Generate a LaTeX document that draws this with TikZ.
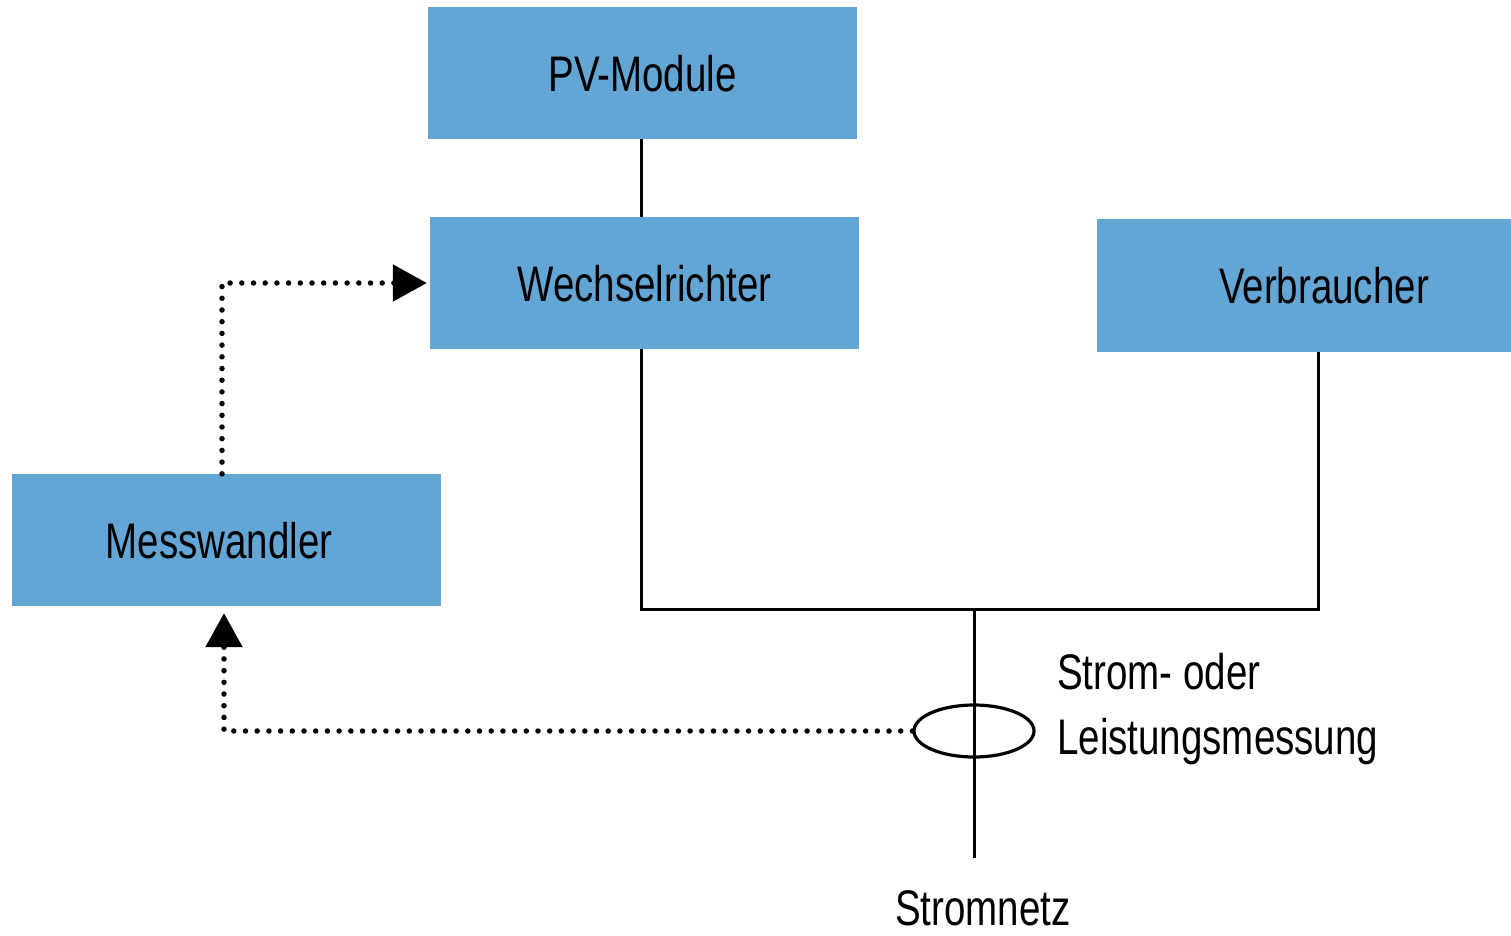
\documentclass[tikz,border=0pt]{standalone}
\usepackage{fontspec}
\newfontfamily\lbfont[FakeStretch=0.77]{Liberation Sans}
\usetikzlibrary{arrows.meta,shapes.geometric}
\definecolor{boxblue}{RGB}{99,166,214}
\tikzset{
  box/.style={fill=boxblue, minimum width=429pt, minimum height=132pt, inner sep=0pt,
    text height=36pt, text depth=0pt, font={\lbfont\fontsize{50pt}{60pt}\selectfont}},
  lbl/.style={inner sep=0pt, font={\lbfont\fontsize{50pt}{60pt}\selectfont}},
  wire/.style={line width=3pt, black},
  sig/.style={line width=5.5pt, line cap=round, dash pattern=on 0pt off 11.7pt,
    -{Triangle[length=34pt,width=36pt,line join=miter]}},
}
\begin{document}
\begin{tikzpicture}[x=1pt,y=-1pt]
\useasboundingbox (0,0) rectangle (1511,935);
\node[box] (pv) at (642.5,73) {PV-Module};
\node[box] (wr) at (644.5,283) {Wechselrichter};
\node[box, minimum height=133pt] (vb) at (1311.5,285.5) {};
\node[lbl, text height=36pt, text depth=0pt] (vbl) at (1324,285.5) {Verbraucher};
\node[box] (mw) at (226.5,540) {};
\node[lbl, text height=36pt, text depth=0pt] (mwl) at (219,540) {Messwandler};
\node[ellipse, draw, line width=3.2pt, minimum width=120pt, minimum height=52pt, inner sep=0pt] (ring) at (974,731) {};
\coordinate (jn) at (974,609);
\coordinate (grid) at (974,858);
\node[lbl, anchor=base] (sn) at (983,925) {Stromnetz};
\node[lbl, anchor=base west] (l1) at (1057,689) {Strom- oder};
\node[lbl, anchor=base west] (l2) at (1057,754) {Leistungsmessung};
% wires
\draw[wire] ([xshift=-1.5pt]pv.south) -- ([xshift=-3.5pt]wr.north);
\draw[wire] ([xshift=-3.5pt]wr.south) |- (jn) -| (vb.south -| 1318,0);
\draw[wire] (jn) -- (grid);
% signal arrows
\draw[sig, shorten >=3pt] (mw.north -| 222,0) |- (wr.west);
\draw[sig, shorten >=7pt] (ring.west) -| (mw.south -| 224,0);
\end{tikzpicture}
\end{document}
